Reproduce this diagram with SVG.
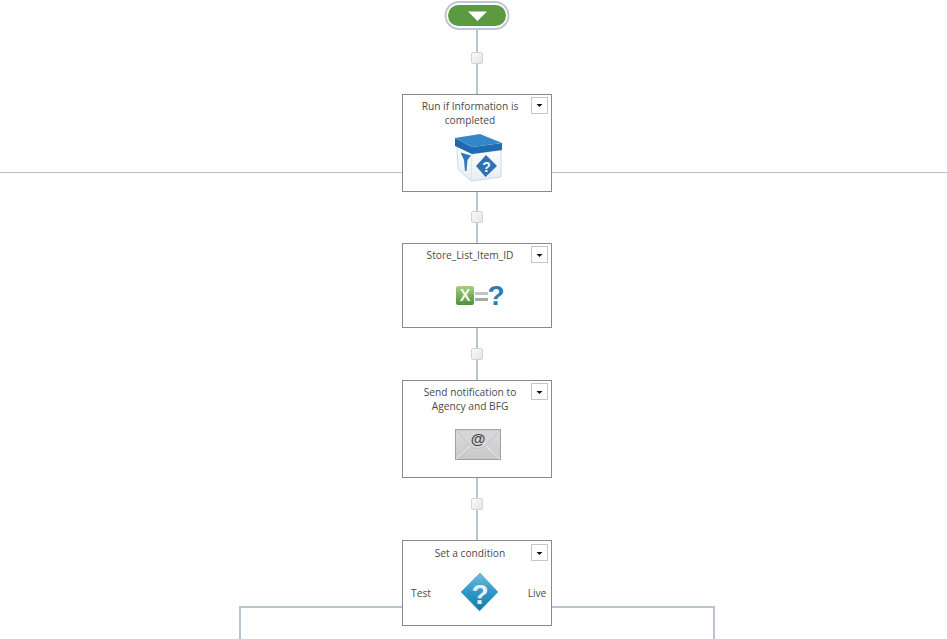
<svg xmlns="http://www.w3.org/2000/svg" width="947" height="639" viewBox="0 0 947 639">
<style>
.t{font-family:"Open Sans","Noto Sans","Liberation Sans",sans-serif;font-size:10.2px;fill:#4a4a4a;text-anchor:middle}
.box{fill:#fff;stroke:#8a8a8a;stroke-width:1}
.dd{fill:#fff;stroke:#c6c6c6;stroke-width:1}
.ar{fill:#111}
.c{fill:none;stroke:#b8c4d0;stroke-width:2}
.thin{fill:none;stroke:#b4c0cc;stroke-width:1}
.h{fill:url(#hg);stroke:#d4d4d4;stroke-width:1}
</style>
<defs>
<linearGradient id="hg" x1="0" y1="0" x2="1" y2="1"><stop offset="0" stop-color="#fbfbfb"/><stop offset="1" stop-color="#e4e4e4"/></linearGradient>
<linearGradient id="dia" x1="0" y1="0" x2="0" y2="1"><stop offset="0" stop-color="#72bede"/><stop offset="0.500" stop-color="#2f97c6"/><stop offset="1" stop-color="#1579a8"/></linearGradient>
<linearGradient id="env" x1="0" y1="0" x2="0" y2="1"><stop offset="0" stop-color="#dcdcdc"/><stop offset="1" stop-color="#c8c8c8"/></linearGradient>
<linearGradient id="xg" x1="0" y1="0" x2="0" y2="1"><stop offset="0" stop-color="#a4d07c"/><stop offset="1" stop-color="#4f8f3c"/></linearGradient>
<linearGradient id="bodyg" x1="0" y1="0" x2="0" y2="1"><stop offset="0" stop-color="#ffffff"/><stop offset="1" stop-color="#e6eef4"/></linearGradient>
</defs>
<rect width="947" height="639" fill="#fff"/>
<g id="connectors">
<path class="c" d="M477 28V95M477 191V244M477 327V380M477 477V541"/>
<path class="thin" d="M0 172.500H403M551 172.500H947"/>
<path class="c" d="M240 639V607H403M551 607H714V639"/>
<rect class="h" x="471.500" y="52.500" width="11" height="11" rx="1.500"/>
<rect class="h" x="471.500" y="211.500" width="11" height="11" rx="1.500"/>
<rect class="h" x="471.500" y="348.500" width="11" height="11" rx="1.500"/>
<rect class="h" x="471.500" y="498.500" width="11" height="11" rx="1.500"/>
</g>
<g id="start">
<rect x="445.500" y="2" width="63" height="27" rx="13.500" fill="#fff" stroke="#bcc8d2" stroke-width="2"/>
<rect x="448" y="5" width="58" height="21" rx="10.500" fill="#5b9a41"/>
<path d="M468 11.500H487L477.500 21Z" fill="#fff"/>
</g>
<g id="node-run-if">
<rect class="box" x="402.500" y="94.500" width="149" height="97"/>
<rect class="dd" x="531.500" y="97.500" width="16" height="16"/>
<path class="ar" d="M536.500 104H542.500L539.500 107Z"/>
<text class="t" x="470" y="110">Run if Information is</text>
<text class="t" x="470" y="124">completed</text>
<path d="M457 146L458 169L471 181L501 177L501 150L472 154Z" fill="url(#bodyg)" stroke="#bfd0dc" stroke-width="0.800"/>
<path d="M472 154L471 181" stroke="#d4e0e8" stroke-width="0.800" fill="none"/>
<path d="M455 138L472 147V154L455 146Z" fill="#2169ab"/>
<path d="M472 147L502 143V150L472 154Z" fill="#1f6cb0"/>
<path d="M455 138L480 134L502 143L472 147Z" fill="#3387c8"/>
<path d="M460.500 152.500L471 155.500L467.500 160L466.500 171L465 171L464 160Z" fill="#2a78b5"/>
<path d="M486 155L497 166L485.500 177L476 166Z" fill="#2c72b4"/>
<text x="486.500" y="171.500" font-family="Liberation Sans,sans-serif" font-size="14" font-weight="700" fill="#fff" text-anchor="middle">?</text>
</g>
<g id="node-store">
<rect class="box" x="402.500" y="243.500" width="149" height="84"/>
<rect class="dd" x="531.500" y="246.500" width="16" height="16"/>
<path class="ar" d="M536.500 254H542.500L539.500 257Z"/>
<text class="t" x="470" y="259">Store_List_Item_ID</text>
<rect x="456" y="286" width="18" height="19" rx="2" fill="url(#xg)"/>
<text x="465" y="301" font-family="Liberation Sans,sans-serif" font-size="16" font-weight="700" fill="#f2f8ea" text-anchor="middle">X</text>
<rect x="475" y="292" width="13" height="3" fill="#c0c6c0"/>
<rect x="475" y="298" width="13" height="3" fill="#a4aca4"/>
<text x="496" y="305" font-family="Liberation Sans,sans-serif" font-size="28" font-weight="700" fill="#2f7cb4" text-anchor="middle">?</text>
</g>
<g id="node-send">
<rect class="box" x="402.500" y="380.500" width="149" height="97"/>
<rect class="dd" x="531.500" y="383.500" width="16" height="16"/>
<path class="ar" d="M536.500 391H542.500L539.500 394Z"/>
<text class="t" x="470" y="396">Send notification to</text>
<text class="t" x="470" y="410">Agency and BFG</text>
<rect x="455.500" y="429.500" width="45" height="30" fill="url(#env)" stroke="#a0a0a0"/>
<path d="M456 430L470 446Q478 451 486 446L500 430Z" fill="#d6d6d6" stroke="#b8b8b8" stroke-width="0.600"/>
<path d="M456 459L470 446M500 459L486 446" fill="none" stroke="#ececec"/>
<text x="478" y="444" font-family="Liberation Sans,sans-serif" font-size="15" font-weight="700" fill="#4a4a4a" text-anchor="middle">@</text>
</g>
<g id="node-condition">
<rect class="box" x="402.500" y="540.500" width="149" height="85"/>
<rect class="dd" x="531.500" y="544.500" width="16" height="16"/>
<path class="ar" d="M536.500 552H542.500L539.500 555Z"/>
<text class="t" x="470" y="557">Set a condition</text>
<text class="t" x="421" y="597">Test</text>
<text class="t" x="537" y="597">Live</text>
<path d="M480 573L498 592L480 610.500Q479.500 611 479 610.500L461 592Z" fill="url(#dia)" stroke="#3f9bc4" stroke-width="0.500"/>
<text x="480" y="604" font-family="Liberation Sans,sans-serif" font-size="28" font-weight="700" fill="#e8f2f6" text-anchor="middle">?</text>
</g>
</svg>
